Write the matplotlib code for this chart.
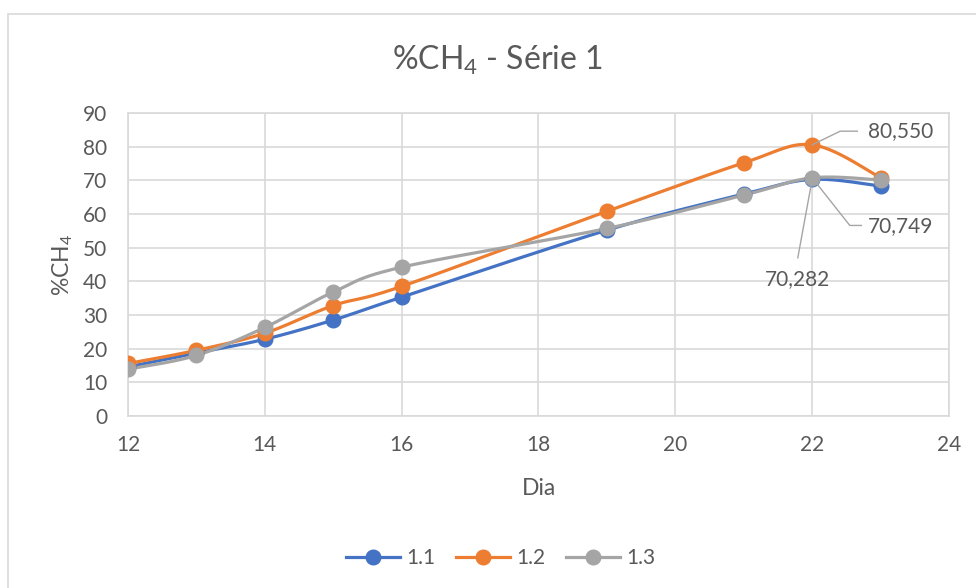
import numpy as np
import matplotlib
matplotlib.use("Agg")
import matplotlib.pyplot as plt
from matplotlib.patches import Rectangle
from matplotlib.lines import Line2D

plt.rcParams['font.family'] = ['Lato', 'DejaVu Sans']
plt.rcParams['mathtext.fontset'] = 'custom'
plt.rcParams['mathtext.rm'] = 'Lato'
plt.rcParams['mathtext.it'] = 'Lato'

# data
dias = [12, 13, 14, 15, 16, 19, 21, 22, 23]
s11 = [14.6, 18.7, 22.8, 28.5, 35.3, 55.2, 65.9, 70.282, 68.3]
s12 = [15.6, 19.5, 24.6, 32.8, 38.5, 60.8, 75.2, 80.550, 70.8]
s13 = [13.9, 18.0, 26.3, 36.8, 44.2, 55.7, 65.6, 70.749, 70.1]
series_names = ['1.1', '1.2', '1.3']
colors = ['#4472C4', '#ED7D31', '#A5A5A5']

TXT = '#595959'
GRID = '#D9D9D9'


def smooth(x, y, n=30):
    # Excel-like smoothed line: cubic bezier between points
    x = np.asarray(x, float)
    y = np.asarray(y, float)
    px, py = [], []
    k = len(x)
    for i in range(k - 1):
        x0, y0 = (x[i - 1], y[i - 1]) if i > 0 else (x[i], y[i])
        x3, y3 = (x[i + 2], y[i + 2]) if i + 2 < k else (x[i + 1], y[i + 1])
        c1x = x[i] + (x[i + 1] - x0) / 6
        c1y = y[i] + (y[i + 1] - y0) / 6
        c2x = x[i + 1] - (x3 - x[i]) / 6
        c2y = y[i + 1] - (y3 - y[i]) / 6
        t = np.linspace(0, 1, n)
        b0 = (1 - t) ** 3
        b1 = 3 * (1 - t) ** 2 * t
        b2 = 3 * (1 - t) * t ** 2
        b3 = t ** 3
        px.extend(b0 * x[i] + b1 * c1x + b2 * c2x + b3 * x[i + 1])
        py.extend(b0 * y[i] + b1 * c1y + b2 * c2y + b3 * y[i + 1])
    return np.array(px), np.array(py)


fig = plt.figure(figsize=(9.76, 5.88), dpi=100)
fig.patches.append(Rectangle((8 / 976, -0.01), 1.0, 1 - 14 / 588 + 0.01,
                             transform=fig.transFigure, fill=False,
                             edgecolor=GRID, linewidth=1.2))
ax = fig.add_axes([128 / 976, 1 - 416 / 588, (949 - 128) / 976, (416 - 113) / 588])

for ys, c in zip([s11, s12, s13], colors):
    sx, sy = smooth(dias, ys)
    ax.plot(sx, sy, color=c, lw=2.3, zorder=3, solid_capstyle='round')
    ax.plot(dias, ys, 'o', color=c, ms=10.5, zorder=4)

ax.set_xlim(12, 24)
ax.set_ylim(0, 90)
ax.set_xticks(range(12, 25, 2))
ax.set_yticks(range(0, 91, 10))
ax.grid(True, color=GRID, lw=1.2)
ax.set_axisbelow(True)
for s in ax.spines.values():
    s.set_color(GRID)
    s.set_linewidth(1.2)
ax.tick_params(length=0, labelsize=15, colors=TXT)
ax.tick_params(axis='x', pad=14)
ax.tick_params(axis='y', pad=15)

ax.set_xlabel('Dia', fontsize=16.5, color=TXT, labelpad=16)
ax.set_ylabel('%CH$_4$', fontsize=16.5, color=TXT, labelpad=6)
fig.text(0.51, 1 - 60 / 588, '%CH$_4$ - Série 1', fontsize=23, color=TXT,
         ha='center', va='center')

# data labels with leader lines
lab = dict(fontsize=15, color=TXT, va='center')
ax.plot([22, 22.41, 22.66], [s12[7], 84.6, 84.6], color=colors[2], lw=1, zorder=5)
ax.text(22.82, 84.6, '80,550', ha='left', **lab)
ax.plot([22, 22.55, 22.72], [s13[7], 56.6, 56.6], color=colors[2], lw=1, zorder=5)
ax.text(22.82, 56.3, '70,749', ha='left', **lab)
ax.plot([22, 21.79], [s11[7], 47.0], color=colors[2], lw=1, zorder=5)
ax.text(21.79, 40.6, '70,282', ha='center', **lab)

handles = [Line2D([0], [0], color=c, lw=2.3, marker='o', ms=10.5) for c in colors]
leg = fig.legend(handles, series_names, loc='center', bbox_to_anchor=(0.513, 1 - 558 / 588),
                 ncol=3, frameon=False, fontsize=15, handlelength=2.6,
                 columnspacing=1.0, handletextpad=0.3)
for t in leg.get_texts():
    t.set_color(TXT)

fig.savefig('out.png', dpi=100)
